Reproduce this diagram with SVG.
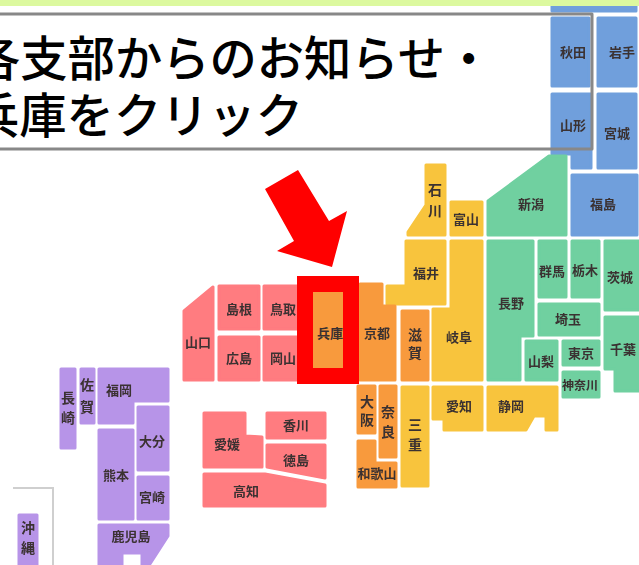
<svg xmlns="http://www.w3.org/2000/svg" width="639" height="565" viewBox="0 0 639 565">
<style>
text{font-family:"Noto Sans CJK JP","Noto Sans",sans-serif;text-anchor:middle}
.l{font-size:13px;font-weight:700;fill:#3a3030}
.v{font-size:14px}
.t{font-size:47.3px;font-weight:500;fill:#000;text-anchor:start}
.b rect,.b polygon{fill:#6f9fdc;stroke:#6f9fdc}
.g rect,.g polygon{fill:#6fd0a0;stroke:#6fd0a0}
.y rect,.y polygon{fill:#f8c43c;stroke:#f8c43c}
.o rect,.o polygon{fill:#f89a3c;stroke:#f89a3c}
.r rect,.r polygon{fill:#ff7b80;stroke:#ff7b80}
.p rect,.p polygon{fill:#b794e8;stroke:#b794e8}
rect,polygon{stroke-width:3;stroke-linejoin:round}
</style>
<defs><filter id="soft" x="-5%" y="-5%" width="110%" height="110%"><feGaussianBlur stdDeviation="0.7"/></filter></defs>
<rect width="639" height="565" fill="#fff"/>
<rect id="panel" x="-2" y="14" width="594" height="135" fill="#fff" stroke="none"/>
<g id="map" filter="url(#soft)">
<g class="b">
<g id="aomori"><rect x="552" y="-5" width="84" height="16"/></g>
<g id="akita"><rect x="552" y="18" width="37" height="68"/><text class="l" x="573" y="57">秋田</text></g>
<g id="iwate"><rect x="598" y="18" width="38" height="68"/><text class="l" x="622" y="57">岩手</text></g>
<g id="yamagata"><polygon points="552,94 591,94 591,168 572,168 572,154 552,154"/><text class="l" x="573" y="130">山形</text></g>
<g id="miyagi"><rect x="598" y="94" width="38" height="74"/><text class="l" x="617" y="138">宮城</text></g>
<g id="fukushima"><rect x="572" y="175" width="65" height="60"/><text class="l" x="603" y="209">福島</text></g>
</g>
<g class="g">
<g id="niigata"><polygon points="488,201 488,235 566,235 566,156 549,156"/><text class="l" x="531" y="209">新潟</text></g>
<g id="nagano"><polygon points="488,241 533,241 533,336 520,336 520,380 488,380"/><text class="l" x="511" y="308">長野</text></g>
<g id="gunma"><rect x="539" y="241" width="27" height="56"/><text class="l" x="552" y="276">群馬</text></g>
<g id="tochigi"><rect x="572" y="241" width="27" height="56"/><text class="l" x="585" y="275">栃木</text></g>
<g id="ibaraki"><rect x="605" y="241" width="36" height="69"/><text class="l" x="620" y="282">茨城</text></g>
<g id="saitama"><rect x="539" y="304" width="60" height="31"/><text class="l" x="568" y="324">埼玉</text></g>
<g id="yamanashi"><rect x="526" y="341" width="31" height="39"/><text class="l" x="541" y="366">山梨</text></g>
<g id="tokyo"><rect x="563" y="341" width="36" height="24"/><text class="l" x="581" y="358">東京</text></g>
<g id="kanagawa"><rect x="563" y="372" width="36" height="25"/><text class="l" x="580" y="390" style="font-size:12px">神奈川</text></g>
<g id="chiba"><polygon points="605,317 641,317 641,391 615,391 615,369 605,369"/><text class="l" x="623" y="354">千葉</text></g>
</g>
<g class="y">
<g id="ishikawa"><polygon points="426,165 445,165 445,235 408,235 408,232 426,205"/><text class="l v" x="435" y="195">石</text><text class="l v" x="435" y="216">川</text></g>
<g id="toyama"><rect x="451" y="202" width="31" height="33"/><text class="l" x="466" y="224">富山</text></g>
<g id="fukui"><polygon points="406,241 445,241 445,304 387,304 387,286 406,286"/><text class="l" x="426" y="278">福井</text></g>
<g id="gifu"><polygon points="451,241 482,241 482,380 433,380 433,309 451,309"/><text class="l" x="459" y="342">岐阜</text></g>
<g id="aichi"><polygon points="433,387 482,387 482,430 444,430 444,419 433,419"/><text class="l" x="459" y="411">愛知</text></g>
<g id="shizuoka"><polygon points="488,387 557,387 557,430 546,430 546,416 534,416 526,430 488,430"/><text class="l" x="511" y="411">静岡</text></g>
<g id="mie"><rect x="402" y="387" width="26" height="99"/><text class="l v" x="415" y="430">三</text><text class="l v" x="415" y="450">重</text></g>
</g>
<g class="o">
<g id="shiga"><rect x="402" y="311" width="26" height="69"/><text class="l v" x="415" y="340">滋</text><text class="l v" x="415" y="358">賀</text></g>
<g id="kyoto"><polygon points="360,284 382,284 382,306 395,306 395,380 360,380"/><text class="l" x="377" y="338">京都</text></g>
<g id="hyogo"><rect x="300" y="284" width="58" height="96"/></g>
<g id="osaka"><rect x="358" y="386" width="17" height="47"/><text class="l v" x="367" y="407">大</text><text class="l v" x="367" y="425">阪</text></g>
<g id="nara"><rect x="380" y="386" width="16" height="71"/><text class="l v" x="388" y="417">奈</text><text class="l v" x="388" y="437">良</text></g>
<g id="wakayama"><polygon points="358,441 375,441 375,463 396,463 396,487 358,487"/><text class="l" x="377" y="478">和歌山</text></g>
</g>
<g class="r">
<g id="yamaguchi"><polygon points="184,311 213,287 213,380 184,380"/><text class="l" x="198" y="347">山口</text></g>
<g id="shimane"><rect x="219" y="286" width="40" height="43"/><text class="l" x="239" y="314">島根</text></g>
<g id="tottori"><rect x="264" y="286" width="40" height="43"/><text class="l" x="283" y="314">鳥取</text></g>
<g id="hiroshima"><rect x="219" y="337" width="40" height="43"/><text class="l" x="239" y="363">広島</text></g>
<g id="okayama"><rect x="264" y="337" width="40" height="43"/><text class="l" x="283" y="363">岡山</text></g>
<g id="ehime"><polygon points="204,413 245,413 245,436 262,437 262,467 204,467"/><text class="l" x="227" y="449">愛媛</text></g>
<g id="kagawa"><rect x="267" y="413" width="58" height="25"/><text class="l" x="296" y="430">香川</text></g>
<g id="tokushima"><polygon points="267,445 325,445 325,478 267,467"/><text class="l" x="296" y="465">徳島</text></g>
<g id="kochi"><polygon points="204,474 265,474 325,485 325,506 204,506"/><text class="l" x="246" y="496">高知</text></g>
</g>
<g class="p">
<g id="fukuoka"><polygon points="99,369 168,369 168,401 133,401 133,423 99,423"/><text class="l" x="119" y="395">福岡</text></g>
<g id="saga"><rect x="81" y="369" width="13" height="54"/><text class="l v" x="87" y="390">佐</text><text class="l v" x="87" y="412">賀</text></g>
<g id="nagasaki"><rect x="61" y="369" width="14" height="79"/><text class="l v" x="68" y="403">長</text><text class="l v" x="68" y="423">崎</text></g>
<g id="oita"><rect x="138" y="407" width="30" height="63"/><text class="l" x="152" y="446">大分</text></g>
<g id="miyazaki"><rect x="138" y="477" width="30" height="42"/><text class="l" x="152" y="502">宮崎</text></g>
<g id="kumamoto"><rect x="99" y="430" width="34" height="89"/><text class="l" x="116" y="480">熊本</text></g>
<g id="kagoshima"><polygon points="99,525 168,525 168,536 148,567 142,567 142,553 122,553 122,567 99,567"/><text class="l" x="131" y="541">鹿児島</text></g>
<g id="okinawa"><rect x="19" y="515" width="18" height="52"/><text class="l v" x="28" y="533">沖</text><text class="l v" x="28" y="553">縄</text></g>
</g>
</g>
<g id="connectors">
<path d="M13 488H53V565" fill="none" stroke="#cfcfcf" stroke-width="2"/>
<polygon points="265,189 298,170 329,221 347,211 332,267 277,251 294,241" fill="#f00" stroke="none"/>
</g>
<rect id="band" x="0" y="0" width="639" height="6" fill="#dcf99f" stroke="none"/>
<rect id="frame" x="-2" y="14" width="594" height="135" fill="none" stroke="#888" stroke-width="2" stroke-linejoin="miter"/>
<g id="heading">
<text class="t" x="-27" y="76">各支部からのお知らせ・</text>
<text class="t" x="-28" y="133">兵庫をクリック</text>
</g>
<g id="hyogo-marker">
<path d="M297 276H359V384H297ZM313 292V368H343V292Z" fill="#f00" fill-rule="evenodd"/>
<text class="l" x="330" y="338">兵庫</text>
</g>
</svg>
